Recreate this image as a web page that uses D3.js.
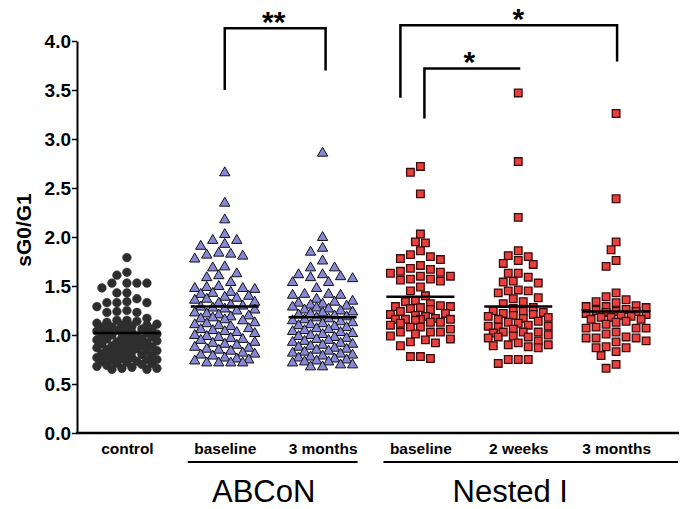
<!DOCTYPE html>
<html><head><meta charset="utf-8">
<script src="https://cdn.jsdelivr.net/npm/d3@7"></script>
<style>body{margin:0;background:#fff} text{font-family:"Liberation Sans",Arial,Helvetica,sans-serif}</style>
</head><body><svg id="c" width="685" height="509"></svg>
<script>
const groupIds = ["control","abconBaseline","abcon3m","nestedBaseline","nested2w","nested3m"];
const groupLabels = ["control","baseline","3 months","baseline","2 weeks","3 months"];
const studyNames = ["ABCoN","Nested I"];
const studyGroups = [["abconBaseline","abcon3m"],["nestedBaseline","nested2w","nested3m"]];
const yTicks = [0,0.5,1,1.5,2,2.5,3,3.5,4];

const control = [1.79,1.64,1.61,1.53,1.53,1.53,1.53,1.48,1.43,1.43,1.37,1.34,1.33,1.33,1.33,1.29,1.25,1.24,1.23,1.23,1.17,1.15,1.15,1.13,1.14,1.12,
 1.11,1.10,1.10,1.09,1.08,1.08,1.07,1.06,1.06,1.05,1.04,1.04,1.03,1.03,1.02,1.01,1.01,1.00,0.99,0.99,0.98,0.97,0.97,0.96,0.96,0.95,0.94,0.94,0.93,0.92,0.92,0.91,0.91,0.90,0.89,0.89,0.88,0.88,0.87,0.86,0.86,0.85,0.84,0.84,0.83,0.83,0.82,0.81,0.81,0.80,0.79,0.79,0.78,0.77,0.77,0.76,0.75,0.75,0.74,0.73,0.73,0.72,0.71,0.71,0.70,0.69,0.68,0.67,0.66,0.66,0.65,0.65];
const abconBaseline = [2.66,2.35,2.18,2.03,1.97,1.97,1.93,1.91,1.84,1.83,1.82,1.81,1.78,1.70,1.69,1.63,1.61,1.59,1.54,1.50,1.49,1.48,1.48,1.47,
 1.44,1.43,1.42,1.40,1.39,1.38,1.37,1.36,1.34,1.33,1.31,1.30,1.29,1.28,1.27,1.26,1.25,1.23,1.22,1.21,1.20,1.19,1.18,1.17,1.16,1.15,1.13,1.12,1.11,1.10,1.09,1.07,1.06,1.05,1.04,1.03,1.02,1.00,0.99,0.98,0.97,0.96,0.95,0.93,0.92,0.91,0.90,0.88,0.87,0.86,0.85,0.84,0.82,0.81,0.80,0.79,0.77,0.76,0.75,0.74,0.72,0.72,0.72,0.72];
const abcon3m = [2.86,2.00,1.89,1.85,1.76,1.69,1.69,1.62,1.60,1.62,1.59,1.58,1.54,1.54,1.48,1.42,1.41,1.41,1.42,1.37,
 1.35,1.34,1.33,1.32,1.31,1.30,1.29,1.28,1.27,1.26,1.25,1.24,1.23,1.22,1.21,1.20,1.19,1.18,1.17,1.16,1.15,1.14,1.13,1.12,1.11,1.10,1.09,1.08,1.07,1.06,1.05,1.04,1.03,1.02,1.01,1.00,0.99,0.98,0.97,0.96,0.95,0.94,0.93,0.92,0.91,0.90,0.89,0.88,0.87,0.86,0.85,0.84,0.83,0.82,0.81,0.80,0.79,0.78,0.77,0.76,0.75,0.74,0.73,0.73,0.72,0.70,0.70,0.68,0.68];
const nestedBaseline = [2.72,2.66,2.44,2.03,1.94,1.95,1.86,1.80,1.78,1.82,1.77,1.71,1.64,1.67,1.68,1.65,1.63,1.57,1.60,1.55,1.56,1.57,1.60,1.45,1.49,1.40,
 1.32,1.35,1.34,1.28,1.29,1.29,1.30,1.27,1.26,1.24,1.22,1.21,1.20,1.19,1.16,1.16,1.17,1.15,1.16,1.16,1.13,1.13,1.12,1.10,1.08,1.08,1.06,1.03,1.03,1.03,1.01,0.99,0.96,0.95,0.93,0.92,0.89,0.78,0.78,0.76];
const nested2w = [3.47,2.77,2.20,1.86,1.81,1.80,1.76,1.73,1.72,1.63,1.63,1.59,1.55,1.54,1.53,1.46,1.45,1.45,1.43,1.38,1.37,1.34,1.32,
 1.28,1.27,1.25,1.24,1.23,1.22,1.21,1.20,1.19,1.18,1.17,1.16,1.14,1.13,1.12,1.10,1.09,1.09,1.08,1.06,1.03,1.03,1.03,1.02,1.00,0.99,0.98,0.98,0.97,0.94,0.92,0.90,0.90,0.89,0.88,0.87,0.75,0.75,0.75,0.71];
const nested3m = [3.26,2.39,1.95,1.87,1.76,1.70,1.43,1.39,1.36,1.34,1.33,1.30,1.29,1.29,1.28,1.26,1.25,1.24,1.24,1.23,1.22,1.21,1.20,1.19,1.18,1.18,1.16,1.16,1.14,1.13,1.11,1.08,1.07,1.07,1.07,1.03,1.01,0.98,0.97,0.97,0.97,0.94,0.93,0.88,0.87,0.87,0.83,0.79,0.70,0.66];
const groupValues = [control, abconBaseline, abcon3m, nestedBaseline, nested2w, nested3m];
const groupMeans = [1.02,1.29,1.18,1.39,1.29,1.24];
const groupShapes = ["circle","triangle","triangle","square","square","square"];

// significance brackets: from group, to group, top level, left/right foot levels, label
const brackets = [
  {from:"abconBaseline", to:"abcon3m", top:4.13, footL:3.50, footR:3.70, label:"**", dxL:0, dxR:3, rightFoot:true},
  {from:"nestedBaseline", to:"nested3m", top:4.16, footL:3.42, footR:3.79, label:"*", dxL:-20, dxR:1, rightFoot:true},
  {from:"nestedBaseline", to:"nested2w", top:3.72, footL:3.21, footR:3.72, label:"*", dxL:4, dxR:2, rightFoot:false}
];

const svg = d3.select("#c");
svg.append("rect").attr("width",685).attr("height",509).attr("fill","#fff");

const x = d3.scalePoint().domain(groupIds).range([78,665]).padding(0.5);
const y = d3.scaleLinear().domain([0,4]).range([433,41]);

// y axis
const yAx = svg.append("g").attr("transform","translate(77,0)")
  .call(d3.axisLeft(y).tickValues(yTicks).tickFormat(d3.format(".1f")).tickSize(5).tickSizeOuter(0));
yAx.select(".domain").attr("stroke","#000").attr("stroke-width",2);
yAx.selectAll(".tick line").attr("stroke","#000").attr("stroke-width",1.5);
yAx.selectAll(".tick text").attr("font-size",19).attr("font-weight","bold").attr("fill","#000").attr("x",-6);

svg.append("text").attr("transform","translate(31,230) rotate(-90)").attr("text-anchor","middle")
  .attr("font-size",21).attr("font-weight","bold").text("sG0/G1");

// x axis line
svg.append("line").attr("x1",76).attr("x2",679).attr("y1",y(0)).attr("y2",y(0)).attr("stroke","#000").attr("stroke-width",2.5);

// category labels
const xAx = svg.append("g").attr("transform",`translate(0,${y(0)})`)
  .call(d3.axisBottom(x).tickSize(0).tickFormat((d,i)=>groupLabels[i]));
xAx.select(".domain").remove();
xAx.selectAll(".tick text").attr("font-size",15.5).attr("font-weight","bold").attr("fill","#000").attr("dy","0").attr("y",21);

// study underlines + names
const ulPad = [[37,35],[37,62]];
const nameShift = [-10,-8];
studyGroups.forEach((gs,i)=>{
  const x1 = x(gs[0]) - ulPad[i][0], x2 = x(gs[gs.length-1]) + ulPad[i][1];
  svg.append("line").attr("x1",x1).attr("x2",x2).attr("y1",462).attr("y2",462).attr("stroke","#000").attr("stroke-width",2);
  svg.append("text").attr("x",(x(gs[0])+x(gs[gs.length-1]))/2 + nameShift[i]).attr("y",502).attr("text-anchor","middle")
    .attr("font-size",31).text(studyNames[i]);
});

// swarm layout
function swarm(vals, cx, step, D, maxOff){
  const pts = vals.map(v=>({v, py:y(v)})).sort((a,b)=>a.py-b.py);
  const cands = [0];
  for(let k=1; k*step/2<=maxOff; k++){ cands.push(-k*step/2, k*step/2); }
  const placed = [];
  pts.forEach(p=>{
    let best=null, bestD=-1;
    for(const c of cands){
      let md = Infinity;
      for(const q of placed){ const d = Math.hypot(q.dx-c, q.py-p.py); if(d<md) md=d; }
      if(md>=D){ best=c; bestD=md; break; }
      if(md>bestD+0.5){ bestD=md; best=c; }
    }
    p.dx=best; p.px=cx+best; placed.push(p);
  });
  return pts;
}

const styles = {
  circle:{fill:"#2e2e2e", stroke:"#2e2e2e", sw:0.5, size:60, sym:d3.symbolCircle, step:10, D:8.5, max:30},
  triangle:{fill:"#8787d8", stroke:"#111", sw:1, size:46, sym:d3.symbolTriangle, step:12, D:9.5, max:30},
  square:{fill:"#e8403e", stroke:"#3a0d0d", sw:1.3, size:58, sym:d3.symbolSquare, step:10, D:9, max:30}
};

groupIds.forEach((g,i)=>{
  const st = styles[groupShapes[i]];
  const pts = swarm(groupValues[i], x(g), st.step, st.D, st.max);
  const sym = d3.symbol().type(st.sym).size(st.size);
  svg.append("g").selectAll("path").data(pts).join("path")
    .attr("d",sym).attr("transform",d=>`translate(${d.px},${d.py + (groupShapes[i]==="triangle"?0.5:0)})`)
    .attr("fill",st.fill).attr("stroke",st.stroke).attr("stroke-width",st.sw);
  svg.append("line").attr("x1",x(g)-34).attr("x2",x(g)+34).attr("y1",y(groupMeans[i])).attr("y2",y(groupMeans[i]))
    .attr("stroke","#000").attr("stroke-width",2.5);
});

// brackets
brackets.forEach(b=>{
  const xl = x(b.from)+b.dxL, xr = x(b.to)+b.dxR;
  let path = `M${xl},${y(b.footL)}V${y(b.top)}H${xr}`;
  if(b.rightFoot) path += `V${y(b.footR)}`;
  svg.append("path").attr("d",path).attr("fill","none").attr("stroke","#000").attr("stroke-width",2.5);
  svg.append("text").attr("x",(x(b.from)+x(b.to))/2).attr("y",y(b.top)+4).attr("text-anchor","middle")
    .attr("font-size",30).attr("font-weight","bold").text(b.label);
});
</script></body></html>
